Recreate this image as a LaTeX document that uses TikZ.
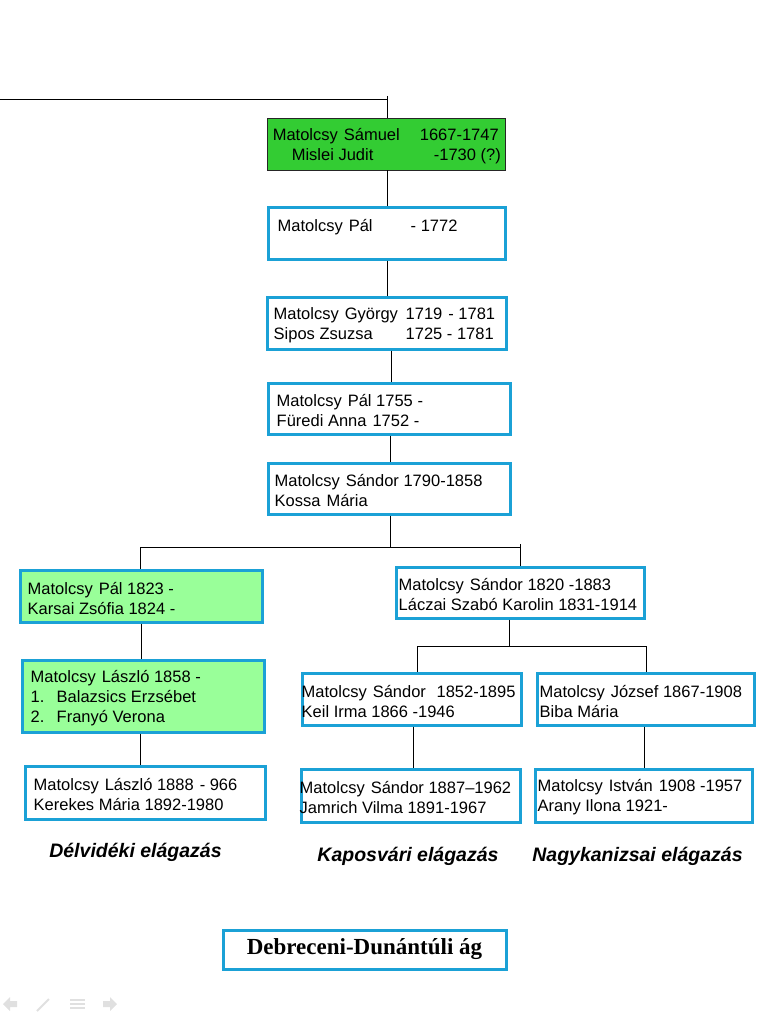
\documentclass[tikz,border=0pt]{standalone}
\usepackage{fontspec}
\setmainfont{Liberation Sans}
\newfontfamily\serifbold{Liberation Serif}
\usetikzlibrary{fit}
\definecolor{cyanb}{RGB}{27,161,214}
\definecolor{dgreen}{RGB}{51,204,51}
\definecolor{lgreen}{RGB}{153,255,153}
\tikzset{
 fambox/.style={draw=cyanb, line width=3pt, fill=white, inner sep=0pt},
 greenbox/.style={fambox, fill=lgreen},
 rootbox/.style={draw=black!85, line width=0.8pt, fill=dgreen, inner sep=0pt},
 famtext/.style={anchor=west, align=left, inner sep=0pt, yshift=-2pt, font=\fontsize{16.5}{20}\selectfont},
 link/.style={draw=black, line width=0.9pt},
 branch/.style={inner sep=0pt, font=\fontsize{19.5}{22}\selectfont\bfseries\itshape},
 icon/.style={fill=black!12, draw=none},
 iconline/.style={draw=black!12, line width=2pt},
}
\newcommand\gap{\hspace{6pt}}
\begin{document}
\begin{tikzpicture}[x=1pt,y=-1pt]
\useasboundingbox (0,0) rectangle (761,1024);
% boxes
\node[rootbox, fit={(267,118)(505,170)}] (b1) {};
\node[fambox, fit={(268,208)(505,259)}] (b2) {};
\node[fambox, fit={(267,297)(506,349)}] (b3) {};
\node[fambox, fit={(268,383)(510,434)}] (b4) {};
\node[fambox, fit={(268,463)(510,514)}] (b5) {};
\node[greenbox, fit={(20,570)(262,622)}] (b6) {};
\node[fambox, fit={(396,567)(644,618)}] (b7) {};
\node[greenbox, fit={(22,660)(264,732)}] (b8) {};
\node[fambox, fit={(302,673)(521,725)}] (b9) {};
\node[fambox, fit={(537,673)(754,725)}] (b10) {};
\node[fambox, fit={(25,766)(265,819)}] (b11) {};
\node[fambox, fit={(301,769)(520,822)}] (b12) {};
\node[fambox, fit={(535,769)(752,822)}] (b13) {};
\node[fambox, fit={(223,930)(506,969)}] (b14) {};
% texts
\node[famtext] (t1) at ([xshift=6pt]b1.west) {\makebox[226pt][l]{Matolcsy\gap Sámuel\hfill 1667-1747}\\\hspace*{19pt}\makebox[209pt][l]{Mislei Judit\hfill -1730 (?)}};
\node[famtext] (t2) at ([xshift=11pt]b2.west) {\makebox[133pt][l]{Matolcsy\gap Pál}- 1772\\\mbox{}};
\node[famtext] (t3) at ([xshift=8pt]b3.west) {\makebox[132pt][l]{Matolcsy\gap György}1719\gap - 1781\\\makebox[132pt][l]{Sipos Zsuzsa}1725 - 1781};
\node[famtext] (t4) at ([xshift=10pt]b4.west) {Matolcsy\gap Pál 1755 -\\Füredi Anna\gap 1752 -};
\node[famtext] (t5) at ([xshift=8pt]b5.west) {Matolcsy\gap Sándor 1790-1858\\Kossa\gap Mária};
\node[famtext] (t6) at ([xshift=9pt]b6.west) {Matolcsy\gap Pál 1823 -\\Karsai Zsófia 1824 -};
\node[famtext] (t7) at ([xshift=4pt]b7.west) {Matolcsy\gap Sándor 1820 -1883\\Láczai Szabó Karolin 1831-1914};
\node[famtext] (t8) at ([xshift=10pt]b8.west) {Matolcsy\gap László 1858 -\\\makebox[26pt][l]{1.}Balazsics Erzsébet\\\makebox[26pt][l]{2.}Franyó Verona};
\node[famtext] (t9) at ([xshift=1pt]b9.west) {Matolcsy\gap Sándor\gap\ 1852-1895\\Keil Irma 1866 -1946};
\node[famtext] (t10) at ([xshift=4pt]b10.west) {Matolcsy\gap József 1867-1908\\Biba Mária};
\node[famtext] (t11) at ([xshift=10pt]b11.west) {Matolcsy\gap László 1888\gap - 966\\Kerekes Mária 1892-1980};
\node[famtext] (t12) at ([xshift=0pt]b12.west) {Matolcsy\gap Sándor 1887--1962\\Jamrich Vilma 1891-1967};
\node[famtext] (t13) at ([xshift=4pt]b13.west) {Matolcsy\gap István\gap 1908 -1957\\Arany Ilona 1921-};
\node[inner sep=0pt, font=\serifbold\fontsize{23}{26}\selectfont\bfseries] (t14) at (b14.center) {Debreceni-Dunántúli ág};
% branch labels
\node[branch] (l1) at (135.5,852) {Délvidéki elágazás};
\node[branch] (l2) at (408,856) {Kaposvári elágazás};
\node[branch] (l3) at (637.5,856) {Nagykanizsai elágazás};
% connectors
\coordinate (top0) at (0,99);
\coordinate (top1) at (387,99);
\coordinate (top2) at (387,96);
\draw[link] (top0) -- (top1);
\draw[link] (top2) -- (top2 |- b1.north);
\draw[link] (b1.south -| top1) -- (top1 |- b2.north);
\draw[link] (b2.south -| top1) -- (top1 |- b3.north);
\coordinate (x391) at (391,0);
\coordinate (x390) at (390,0);
\draw[link] (b3.south -| x391) -- (x391 |- b4.north);
\draw[link] (b4.south -| x390) -- (x390 |- b5.north);
\coordinate (j1) at (390,547);
\coordinate (j1l) at (140,547);
\coordinate (j1r) at (520,547);
\coordinate (j1t) at (520,544);
\draw[link] (b5.south -| j1) -- (j1);
\draw[link] (j1l) -- (j1r);
\draw[link] (j1l) -- (j1l |- b6.north);
\draw[link] (j1t) -- (j1t |- b7.north);
\coordinate (j2) at (509,646);
\coordinate (j2l) at (417,646);
\coordinate (j2r) at (646,646);
\draw[link] (b7.south -| j2) -- (j2);
\draw[link] (j2l) -- (j2r);
\draw[link] (j2l) -- (j2l |- b9.north);
\draw[link] (j2r) -- (j2r |- b10.north);
\coordinate (x141) at (141,0);
\coordinate (x140) at (140,0);
\coordinate (x413) at (413,0);
\coordinate (x644) at (644,0);
\draw[link] (b6.south -| x141) -- (x141 |- b8.north);
\draw[link] (b8.south -| x140) -- (x140 |- b11.north);
\draw[link] (b9.south -| x413) -- (x413 |- b12.north);
\draw[link] (b10.south -| x644) -- (x644 |- b13.north);
% navigation icons
\fill[icon] (3,1004) -- (10,997) -- (10,1001) -- (17,1001) -- (17,1007) -- (10,1007) -- (10,1011) -- cycle;
\draw[iconline] (37,1011) -- (49,999);
\draw[iconline] (70,1000) -- (85,1000) (70,1004) -- (85,1004) (70,1008) -- (85,1008);
\fill[icon] (117,1004) -- (110,997) -- (110,1001) -- (103,1001) -- (103,1007) -- (110,1007) -- (110,1011) -- cycle;
\end{tikzpicture}
\end{document}
